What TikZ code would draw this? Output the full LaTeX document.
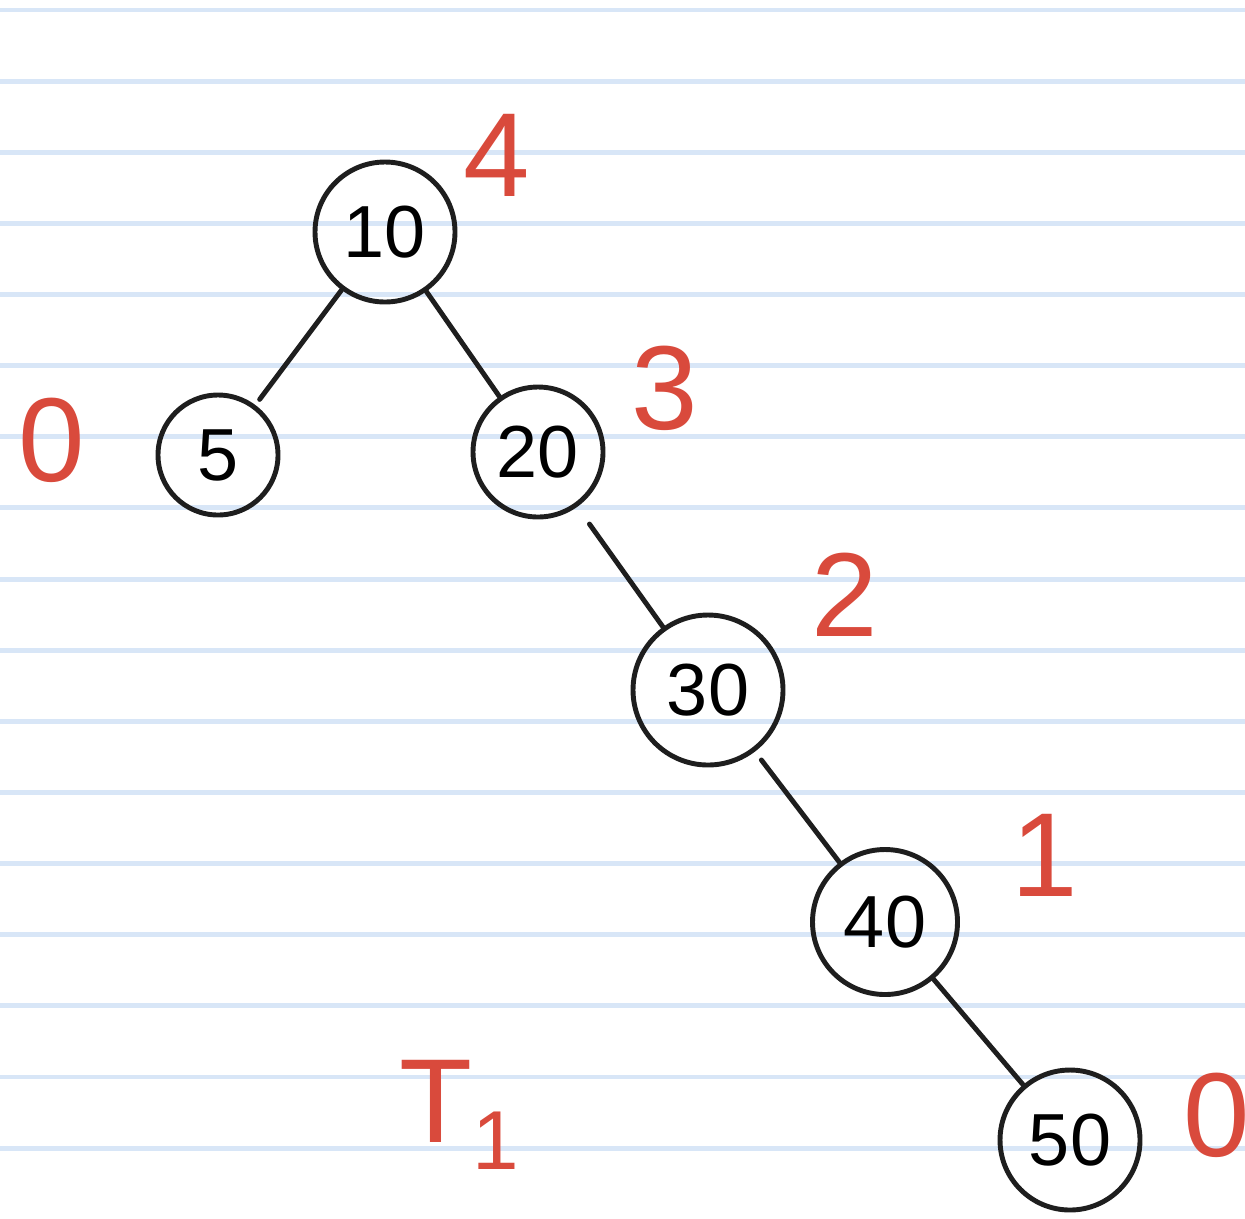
\documentclass[tikz,border=0pt]{standalone}
\usepackage{fontspec}
\setmainfont{Liberation Sans}
\usepackage{tikz}
\usetikzlibrary{positioning, calc}

\definecolor{ruleblue}{HTML}{D8E6F7}
\definecolor{inkred}{HTML}{D94A3C}
\definecolor{ink}{HTML}{1E1E1E}

\begin{document}
\begin{tikzpicture}[
    treenode/.style={circle, draw=ink, line width=1.4pt, inner sep=0pt, font=\fontsize{21}{21}\selectfont},
    height/.style={text=inkred, font=\fontsize{34}{34}\selectfont},
    edge/.style={draw=ink, line width=1.4pt, line cap=round}
]
\useasboundingbox (0,0) rectangle (12.45,-12.18);

% ruled paper
\foreach \k in {0,...,16}
    \draw [ruleblue, line width=1.4pt] (0,{-0.10-0.7113*\k}) -- (12.45,{-0.10-0.7113*\k});

% tree
\node (n10) [treenode, minimum size=1.40cm] at (3.85,-2.32) {10};
\node (n5)  [treenode, minimum size=1.20cm] at (2.18,-4.55) {5};
\node (n20) [treenode, minimum size=1.30cm] at (5.38,-4.52) {20};
\node (n30) [treenode, minimum size=1.50cm] at (7.08,-6.90) {30};
\node (n40) [treenode, minimum size=1.45cm] at (8.85,-9.22) {40};
\node (n50) [treenode, minimum size=1.40cm] at (10.70,-11.40) {50};

\draw [edge, shorten >=2pt] (n10) -- (n5);
\draw [edge] (n10) -- (n20);
\draw [edge, shorten <=6pt] (n20) -- (n30);
\draw [edge, shorten <=3pt] (n30) -- (n40);
\draw [edge] (n40) -- (n50);

% heights
\node (h10) [height] at (4.97,-1.55) {4};
\node (h20) [height] at (6.65,-3.88) {3};
\node (h30) [height] at (8.45,-5.95) {2};
\node (h40) [height] at (10.45,-8.55) {1};
\node (h5)  [height] at (0.52,-4.40) {0};
\node (h50) [height] at (12.17,-11.15) {0};
\node (title) [height] at (4.60,-11.15) {T\textsubscript{1}};

\end{tikzpicture}
\end{document}
